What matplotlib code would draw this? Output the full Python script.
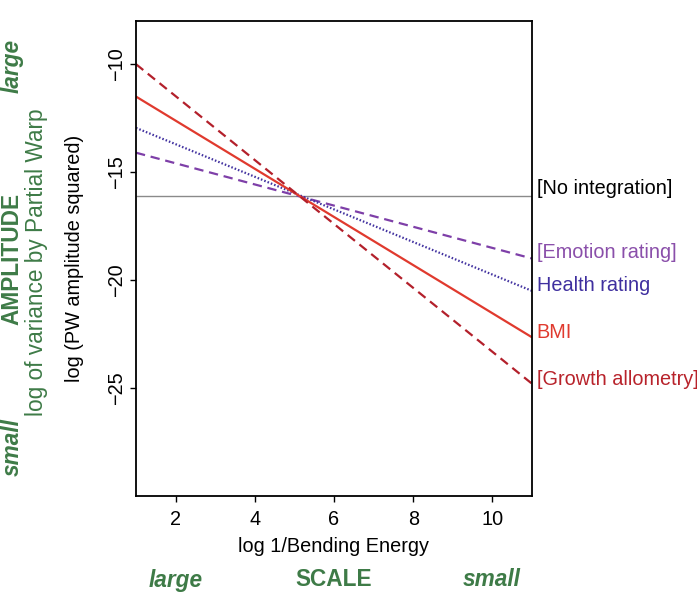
import matplotlib
matplotlib.use('Agg')
import matplotlib.pyplot as plt

plt.rcParams['font.family'] = ['Liberation Sans', 'DejaVu Sans']

W, H = 697, 593

# data: straight lines given by their values at the ends of the x range
x_ends = [1, 11]
series_names = ['[No integration]', '[Emotion rating]', 'Health rating', 'BMI', '[Growth allometry]']
y_start = [-16.1, -14.1, -12.95, -11.5, -10.0]
y_end = [-16.1, -19.0, -20.5, -22.65, -24.8]
label_y = [-15.75, -18.7, -20.25, -22.45, -24.6]

x_ticks = [2, 4, 6, 8, 10]
y_ticks = [-10, -15, -20, -25]

green = '#3E7B47'
line_colors = ['#8a8a8a', '#7E3FA8', '#4232A0', '#E03A2E', '#B3202B']
text_colors = ['black', '#8A4FAA', '#3F2F9F', '#E03A2E', '#B8232B']
styles = [dict(lw=1.0, ls='-'),
          dict(lw=1.6, dashes=(4.2, 2.6)),
          dict(lw=1.6, dashes=(0.7, 0.9)),
          dict(lw=1.6, ls='-'),
          dict(lw=1.6, dashes=(4.2, 2.6))]

fig = plt.figure(figsize=(W / 100, H / 100), dpi=100)
ax = fig.add_axes([136 / W, 1 - 496 / H, (532 - 136) / W, (496 - 21) / H])

for name, y0, y1, c, st in zip(series_names, y_start, y_end, line_colors, styles):
    ax.plot(x_ends, [y0, y1], color=c, solid_capstyle='butt', **st)

for name, ly, tc in zip(series_names, label_y, text_colors):
    ax.text(11.12, ly, name, color=tc, fontsize=14.3, ha='left', va='center', clip_on=False)

ax.set_xlim(1, 11)
ax.set_ylim(-30, -8)
ax.set_xticks(x_ticks)
ax.set_yticks(y_ticks)
ax.set_yticklabels([f'\u2212{abs(v)}' for v in y_ticks], rotation=90, va='center')
ax.tick_params(axis='both', labelsize=14.3, length=4, width=1, direction='out')
ax.tick_params(axis='x', pad=6)
ax.tick_params(axis='y', pad=3)
for sp in ax.spines.values():
    sp.set_linewidth(1.3)

ax.set_xlabel('log 1/Bending Energy', fontsize=14.3, labelpad=6)
ax.set_ylabel('log (PW amplitude squared)', fontsize=14.3, labelpad=17)

# green annotations around the axes
fig.text(12 / W, 1 - 66 / H, 'large', color=green, fontsize=16.3, fontweight='bold',
         fontstyle='italic', rotation=90, ha='center', va='center')
fig.text(12 / W, 1 - 259 / H, 'AMPLITUDE', color=green, fontsize=16.3, fontweight='bold',
         rotation=90, ha='center', va='center')
fig.text(12 / W, 1 - 447 / H, 'small', color=green, fontsize=16.3, fontweight='bold',
         fontstyle='italic', rotation=90, ha='center', va='center')
fig.text(37 / W, 1 - 262 / H, 'log of variance by Partial Warp', color=green, fontsize=16.3,
         rotation=90, ha='center', va='center')

fig.text(176 / W, 1 - 580 / H, 'large', color=green, fontsize=16.3, fontweight='bold',
         fontstyle='italic', ha='center', va='center')
fig.text(334 / W, 1 - 580 / H, 'SCALE', color=green, fontsize=16.3, fontweight='bold',
         ha='center', va='center')
fig.text(492 / W, 1 - 580 / H, 'small', color=green, fontsize=16.3, fontweight='bold',
         fontstyle='italic', ha='center', va='center')

fig.savefig('out.png', dpi=100, facecolor='white')
